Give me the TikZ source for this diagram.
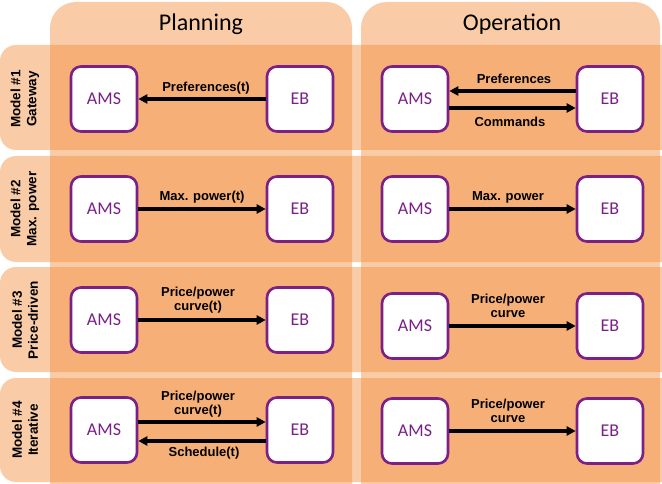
\documentclass[tikz,border=0pt]{standalone}
\usepackage{fontspec}
\setmainfont{Carlito}
\newfontfamily\lblfont{Liberation Sans}
\usetikzlibrary{arrows.meta}
\definecolor{bgorange}{RGB}{241,140,60}
\definecolor{boxpurple}{RGB}{122,32,135}
\tikzset{
  colbg/.style={fill=bgorange,fill opacity=0.45,draw=none},
  rowbg/.style={fill=bgorange,fill opacity=0.45,draw=none},
  box/.style={draw=boxpurple,line width=2.6pt,fill=white,rounded corners=10pt,
    minimum width=66pt,minimum height=65pt,inner sep=0pt,
    text=boxpurple,font=\fontsize{18}{20}\selectfont},
  lbl/.style={font=\lblfont\bfseries\fontsize{13}{14.5}\selectfont,inner sep=0pt,align=center},
  rowlbl/.style={font=\lblfont\bfseries\fontsize{13.5}{16}\selectfont,inner sep=0pt,align=center,rotate=90},
  ttl/.style={font=\fontsize{24}{26}\selectfont,inner sep=0pt},
  arr/.style={line width=3.2pt,-{Triangle[length=9pt,width=9pt]}},
}
\begin{document}
\begin{tikzpicture}[x=1pt,y=-1pt]
\useasboundingbox (0,0) rectangle (662,484);
% columns
\path[colbg] (50,484) [rounded corners=26pt] -- (50,2) -- (352,2) [sharp corners] -- (352,484) -- cycle;
\path[colbg] (361,484) [rounded corners=26pt] -- (361,2) -- (660,2) [sharp corners] -- (660,484) -- cycle;
% rows
\foreach \t/\b in {45/150,156/262,267/372,378/482}{
  \path[rowbg] (662,\t) [rounded corners=16pt] -- (0,\t) -- (0,\b) [sharp corners] -- (662,\b) -- cycle;
}
% titles
\node[ttl] (tplan) at (201,24) {Planning};
\node[ttl] (toper) at (512,24) {Operation};
% row labels
\node[rowlbl] (r1) at (25,99) {Model \#1\\Gateway};
\node[rowlbl] (r2) at (25,209) {Model \#2\\Max. power};
\node[rowlbl] (r3) at (25,320) {Model \#3\\Price-driven};
\node[rowlbl] (r4) at (25,430) {Model \#4\\Iterative};
% row 1
\node[box] (pa1) at (104,99) {AMS};
\node[box] (pe1) at (300,99) {EB};
\node[box] (oa1) at (415,99) {AMS};
\node[box] (oe1) at (610,99) {EB};
\draw[arr] (pe1.west) -- (pa1.east);
\node[lbl] (l1) at (206,88) {Preferences(t)};
\draw[arr] ([yshift=8pt]oe1.west) -- ([yshift=8pt]oa1.east);
\draw[arr] ([yshift=-9pt]oa1.east) -- ([yshift=-9pt]oe1.west);
\node[lbl] (l2) at (514,79) {Preferences};
\node[lbl] (l3) at (510,122) {Commands};
% row 2
\node[box] (pa2) at (104,209) {AMS};
\node[box] (pe2) at (300,209) {EB};
\node[box] (oa2) at (415,209) {AMS};
\node[box] (oe2) at (610,209) {EB};
\draw[arr] (pa2.east) -- (pe2.west);
\draw[arr] (oa2.east) -- (oe2.west);
\node[lbl] (l4) at (202,197) {Max. power(t)};
\node[lbl] (l5) at (508,197) {Max. power};
% row 3
\node[box] (pa3) at (104,320) {AMS};
\node[box] (pe3) at (300,320) {EB};
\node[box] (oa3) at (415,326) {AMS};
\node[box] (oe3) at (610,326) {EB};
\draw[arr] (pa3.east) -- (pe3.west);
\draw[arr] (oa3.east) -- (oe3.west);
\node[lbl] (l6) at (198,300) {Price/power\\curve(t)};
\node[lbl] (l7) at (508,306) {Price/power\\curve};
% row 4
\node[box] (pa4) at (104,430) {AMS};
\node[box] (pe4) at (300,430) {EB};
\node[box] (oa4) at (415,431) {AMS};
\node[box] (oe4) at (610,431) {EB};
\draw[arr] ([yshift=8pt]pa4.east) -- ([yshift=8pt]pe4.west);
\draw[arr] ([yshift=-11pt]pe4.west) -- ([yshift=-11pt]pa4.east);
\node[lbl] (l8) at (198,404) {Price/power\\curve(t)};
\node[lbl] (l9) at (204,453) {Schedule(t)};
\draw[arr] (oa4.east) -- (oe4.west);
\node[lbl] (l10) at (508,411) {Price/power\\curve};
\end{tikzpicture}
\end{document}
